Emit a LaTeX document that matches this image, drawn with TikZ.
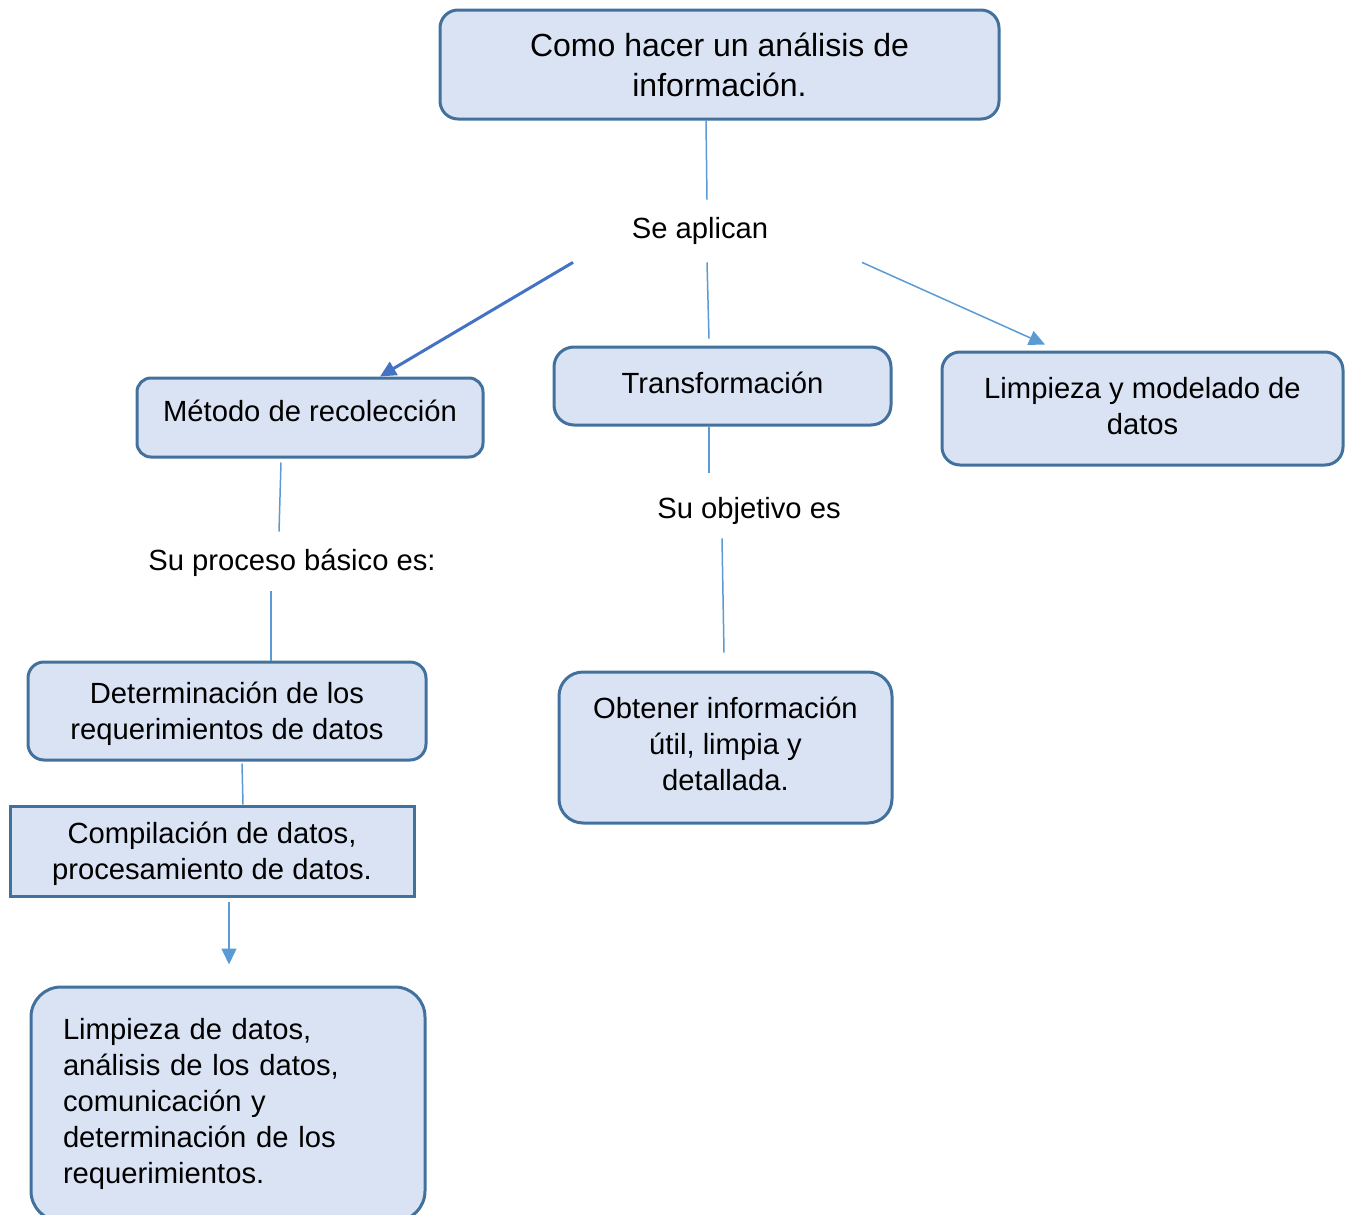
\documentclass[tikz,border=0pt]{standalone}
\usepackage{fontspec}
\setmainfont{Liberation Sans}
\usetikzlibrary{arrows.meta,positioning}
\definecolor{boxfill}{HTML}{DAE3F3}
\definecolor{boxline}{HTML}{41719C}
\definecolor{linklight}{HTML}{5B9BD5}
\definecolor{linkdark}{HTML}{4472C4}
\tikzstyle{block} = [
  rectangle, draw = boxline, fill = boxfill, line width = 1.5pt,
  rounded corners = 7pt, align = center, inner sep = 0pt,
  font = \fontsize{14.6pt}{18pt}\selectfont
]
\tikzstyle{linktext} = [
  inner sep = 0pt, font = \fontsize{14.6pt}{18pt}\selectfont
]
\tikzstyle{link} = [draw = linklight, line width = 0.75pt]
\tikzstyle{tip} = [-{Triangle[length=8pt, width=7.5pt]}]

\begin{document}
\begin{tikzpicture}[x=0.5pt, y=-0.5pt]
    \useasboundingbox (0,0) rectangle (1345,1215);

    \node[block, minimum width=279.5pt, minimum height=54.5pt, rounded corners=9pt,
      font=\fontsize{16pt}{20pt}\selectfont] (title) at (719.5,64.5)
      {Como hacer un análisis de\\información.};
    \node[linktext, minimum height=31pt] (aplican) at (700,231) {Se aplican};

    \node[block, minimum width=173pt, minimum height=39.5pt, text depth=7pt] (metodo)
      at (310,417.5) {Método de recolección};
    \node[block, minimum width=168.5pt, minimum height=39pt, rounded corners=10pt,
      text depth=3pt] (trans) at (722.5,386) {Transformación};
    \node[block, minimum width=200.5pt, minimum height=56.5pt, rounded corners=9pt,
      text depth=3pt] (limp) at (1142.5,408.5) {Limpieza y modelado de\\datos};

    \node[linktext, minimum height=29.5pt] (proceso) at (292,562.5) {Su proceso básico es:};
    \node[linktext, minimum height=32.5pt] (objetivo) at (749,510.5) {Su objetivo es};

    \node[block, minimum width=199pt, minimum height=49pt, rounded corners=8pt,
      text depth=0pt] (deter) at (227,711) {Determinación de los\\requerimientos de datos};
    \node[block, sharp corners, minimum width=202pt, minimum height=45pt, text depth=0pt]
      (compil) at (212,851) {Compilación de datos,\\procesamiento de datos.};
    \node[block, align=left, text width=165pt, inner xsep=16pt, minimum height=117pt,
      rounded corners=15pt] (limpdatos) at (228,1104)
      {Limpieza de datos,\\análisis de los datos,\\comunicación y\\determinación de los\\requerimientos.};
    \node[block, minimum width=166.5pt, minimum height=75.5pt, rounded corners=12pt,
      text depth=4pt] (obtener) at (725.5,747.5) {Obtener información\\útil, limpia y\\detallada.};

    \draw[link] ([xshift=-6.75pt]title.south) -- ([xshift=3.5pt]aplican.north);
    \draw[tip, draw=linkdark, fill=linkdark, line width=1.5pt]
      ([xshift=-63.5pt]aplican.south) -- ([xshift=35pt]metodo.north);
    \draw[link] ([xshift=3.5pt]aplican.south) -- ([xshift=-6.75pt, yshift=3.5pt]trans.north);
    \draw[link, tip, fill=linklight]
      ([xshift=81pt]aplican.south) -- ([xshift=-48.75pt, yshift=3pt]limp.north);

    \draw[link] ([xshift=-14.5pt, yshift=-2pt]metodo.south)
      -- ([xshift=-6.5pt, yshift=0.5pt]proceso.north);
    \draw[link] ([xshift=-10.5pt, yshift=0.5pt]proceso.south) -- ([xshift=22pt]deter.north);
    \draw[link] ([xshift=7.5pt, yshift=-1pt]deter.south) -- ([xshift=15.5pt]compil.north);
    \draw[link, tip, fill=linklight]
      ([xshift=8.5pt, yshift=-2pt]compil.south) -- ([xshift=0.5pt, yshift=10.5pt]limpdatos.north);

    \draw[link] ([xshift=-6.75pt]trans.south) -- ([xshift=-20pt, yshift=2.5pt]objetivo.north);
    \draw[link] ([xshift=-13.5pt, yshift=2.5pt]objetivo.south)
      -- ([xshift=-0.75pt, yshift=9pt]obtener.north);
\end{tikzpicture}
\end{document}
